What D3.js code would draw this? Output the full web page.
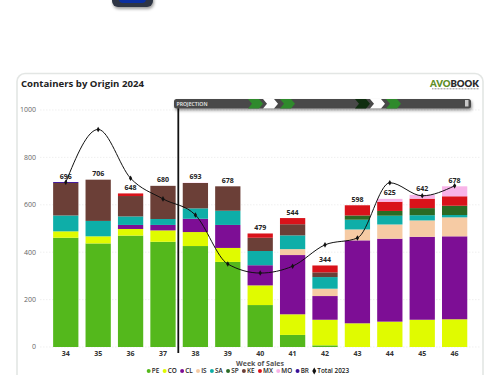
<!DOCTYPE html>
<html>
<head>
<meta charset="utf-8">
<script src="https://cdn.jsdelivr.net/npm/d3@7"></script>
<style>
html, body { margin: 0; padding: 0; background: #fff; overflow: hidden; }
svg { display: block; font-family: "Open Sans", sans-serif; }
</style>
</head>
<body>
<div id="chart"></div>
<script>
const weeks = ["34", "35", "36", "37", "38", "39", "40", "41", "42", "43", "44", "45", "46"];
const origins = ["PE", "CO", "CL", "IS", "SA", "SP", "KE", "MX", "MO", "BR"];
const originColors = ["#54b81c", "#e0fb00", "#7d0e95", "#f6cba4", "#0eaea8", "#2a6a24", "#6b3f37", "#d9121a", "#f8b4e8", "#3a1098"];

const PE = [461, 437, 470, 444, 426, 359, 177, 51, 7, 0, 0, 0, 0];
const CO = [27, 30, 28, 48, 59, 59, 83, 87, 108, 100, 107, 115, 117];
const CL = [0, 0, 17, 23, 56, 97, 85, 250, 100, 350, 350, 350, 350];
const IS = [0, 0, 0, 0, 0, 0, 0, 25, 31, 46, 60, 69, 80];
const SA = [67, 65, 36, 25, 44, 60, 60, 58, 49, 41, 37, 22, 10];
const SP = [0, 0, 0, 0, 0, 0, 0, 0, 0, 18, 20, 30, 39];
const KE = [137, 174, 86, 140, 107, 103, 56, 47, 20, 0, 0, 0, 0];
const MX = [0, 0, 11, 0, 0, 0, 18, 26, 29, 43, 39, 40, 40];
const MO = [0, 0, 0, 0, 1, 0, 0, 0, 0, 0, 12, 16, 42];
const BR = [4, 0, 0, 0, 0, 0, 0, 0, 0, 0, 0, 0, 0];
const total2023 = [695, 918, 712, 625, 557, 350, 312, 341, 431, 460, 693, 638, 680];
const yTicks = [0, 200, 400, 600, 800, 1000];

const originValues = [PE, CO, CL, IS, SA, SP, KE, MX, MO, BR];

const width = 500, height = 375;

const svg = d3.select("#chart").append("svg")
    .attr("width", width)
    .attr("height", height);

const defs = svg.append("defs");
const shadow = defs.append("filter").attr("id", "shadow")
    .attr("x", "-10%").attr("y", "-50%").attr("width", "120%").attr("height", "250%");
shadow.append("feDropShadow")
    .attr("dx", 1).attr("dy", 2).attr("stdDeviation", 1.5)
    .attr("flood-color", "#000").attr("flood-opacity", 0.4);

// button cut off at the top of the page
svg.append("rect")
    .attr("x", 112).attr("y", -14).attr("width", 41).attr("height", 21).attr("rx", 6)
    .attr("fill", "#2f3644")
    .attr("filter", "url(#shadow)");
svg.append("rect")
    .attr("x", 119).attr("y", -10).attr("width", 27).attr("height", 13).attr("rx", 4)
    .attr("fill", "#0b2fa0");

// card
svg.append("rect")
    .attr("x", 17).attr("y", 73.5).attr("width", 466).attr("height", 340).attr("rx", 8)
    .attr("fill", "#fff")
    .attr("stroke", "#e3e6e4")
    .attr("stroke-width", 1.6);

svg.append("text")
    .attr("x", 21).attr("y", 87)
    .attr("font-size", 9.6).attr("font-weight", 700).attr("fill", "#222")
    .text("Containers by Origin 2024");

// logo
const logo = svg.append("text")
    .attr("x", 479).attr("y", 87).attr("text-anchor", "end")
    .attr("font-size", 9.5).attr("font-weight", 800).attr("font-family", "Lato, sans-serif");
logo.append("tspan").attr("fill", "#5f8f2a").text("AVO");
logo.append("tspan").attr("fill", "#2b2b2b").text("BOOK");
svg.append("line")
    .attr("x1", 432).attr("x2", 479).attr("y1", 88.8).attr("y2", 88.8)
    .attr("stroke", "#777").attr("stroke-width", 0.8).attr("stroke-dasharray", "1 0.5");

// scales
const x = d3.scaleBand().domain(weeks).range([46, 474.4]).padding(0.22);
const y = d3.scaleLinear().domain([0, 1000]).range([347, 110]);

// grid + y labels
svg.append("g").selectAll("line")
    .data(yTicks)
    .join("line")
    .attr("x1", 40).attr("x2", 480)
    .attr("y1", d => y(d)).attr("y2", d => y(d))
    .attr("stroke", "#e9e9e9")
    .attr("stroke-width", 0.7)
    .attr("stroke-dasharray", "1.5 1.5");

svg.append("g").selectAll("text")
    .data(yTicks)
    .join("text")
    .attr("x", 36)
    .attr("y", d => y(d))
    .attr("dy", "0.35em")
    .attr("text-anchor", "end")
    .attr("font-size", 7)
    .attr("fill", "#666")
    .text(d => d);

// stacked bars
const rows = weeks.map((w, i) => {
    const row = { week: w };
    origins.forEach((o, j) => { row[o] = originValues[j][i]; });
    return row;
});
const color = d3.scaleOrdinal().domain(origins).range(originColors);
const series = d3.stack().keys(origins)(rows);

svg.append("g").selectAll("g")
    .data(series)
    .join("g")
    .attr("fill", d => color(d.key))
    .selectAll("rect")
    .data(d => d)
    .join("rect")
    .attr("x", d => x(d.data.week))
    .attr("y", d => y(d[1]))
    .attr("width", x.bandwidth())
    .attr("height", d => y(d[0]) - y(d[1]));

// total labels above the stacks
svg.append("g").selectAll("text")
    .data(rows)
    .join("text")
    .attr("x", d => x(d.week) + x.bandwidth() / 2)
    .attr("y", d => y(d3.sum(origins, o => d[o])) - 3.5)
    .attr("text-anchor", "middle")
    .attr("font-size", 7)
    .attr("font-weight", 700)
    .attr("fill", "#222")
    .text(d => d3.sum(origins, o => d[o]));

// x labels
svg.append("g").selectAll("text")
    .data(weeks)
    .join("text")
    .attr("x", d => x(d) + x.bandwidth() / 2)
    .attr("y", 355.5)
    .attr("text-anchor", "middle")
    .attr("font-size", 7)
    .attr("font-weight", 700)
    .attr("fill", "#333")
    .text(d => d);

svg.append("text")
    .attr("x", 260).attr("y", 365.5)
    .attr("text-anchor", "middle")
    .attr("font-size", 7).attr("font-weight", 700).attr("fill", "#555")
    .text("Week of Sales");

// last year's line
const line = d3.line()
    .x((d, i) => x(weeks[i]) + x.bandwidth() / 2)
    .y(d => y(d))
    .curve(d3.curveMonotoneX);

svg.append("path")
    .datum(total2023)
    .attr("d", line)
    .attr("fill", "none")
    .attr("stroke", "#111")
    .attr("stroke-width", 1);

svg.append("g").selectAll("path")
    .data(total2023)
    .join("path")
    .attr("d", d3.symbol(d3.symbolDiamond, 9))
    .attr("transform", (d, i) => `translate(${x(weeks[i]) + x.bandwidth() / 2},${y(d)})`)
    .attr("fill", "#111");

// projection bar
svg.append("line")
    .attr("x1", 178.3).attr("x2", 178.3).attr("y1", 106).attr("y2", 353)
    .attr("stroke", "#111").attr("stroke-width", 1.8);

const bar = svg.append("g");
bar.append("rect")
    .attr("x", 174).attr("y", 99).attr("width", 297).attr("height", 9.5).attr("rx", 2.5)
    .attr("fill", "#4a4a4a")
    .attr("filter", "url(#shadow)");
bar.append("text")
    .attr("x", 176.5).attr("y", 106)
    .attr("font-size", 5.2).attr("font-weight", 600).attr("fill", "#eee")
    .text("PROJECTION");

const chevrons = [
    [248, "#2f8a2c"], [263, "#ffffff"], [280, "#2f8a2c"],
    [355, "#0f2e0f"], [370, "#ffffff"], [386, "#2f8a2c"]
];
bar.selectAll("polygon")
    .data(chevrons)
    .join("polygon")
    .attr("points", d => `${d[0]},99 ${d[0] + 11},99 ${d[0] + 15},103.7 ${d[0] + 11},108.5 ${d[0]},108.5 ${d[0] + 4},103.7`)
    .attr("fill", d => d[1]);
bar.append("rect")
    .attr("x", 465).attr("y", 100).attr("width", 3.5).attr("height", 6.5)
    .attr("fill", "#c8c8c8");

// legend
const legendItems = origins.concat(["Total 2023"]);
const legend = svg.append("g").attr("font-size", 6.4).attr("font-weight", 600).attr("fill", "#222");
let legendX = 147;
legendItems.forEach((name, i) => {
    const isLine = i === origins.length;
    if (isLine) {
        legend.append("path")
            .attr("d", d3.symbol(d3.symbolDiamond, 14))
            .attr("transform", `translate(${legendX + 1.7},371)`)
            .attr("fill", "#111");
    } else {
        legend.append("circle")
            .attr("cx", legendX + 1.7).attr("cy", 371).attr("r", 2)
            .attr("fill", color(name));
    }
    const label = legend.append("text")
        .attr("x", legendX + 4.8).attr("y", 373)
        .text(name);
    legendX += 4.8 + label.node().getComputedTextLength() + 3.6;
});
</script>
</body>
</html>
